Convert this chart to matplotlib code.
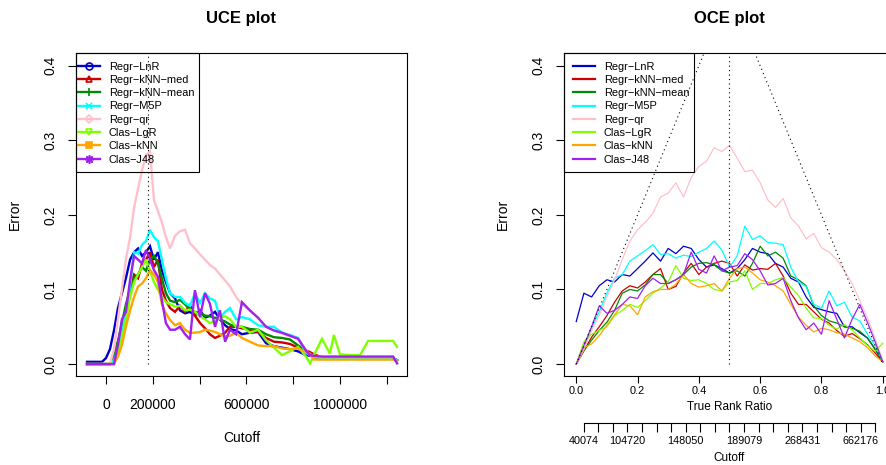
import numpy as np
import matplotlib.pyplot as plt
from matplotlib.lines import Line2D
from matplotlib.patches import Rectangle

plt.rcParams['font.family'] = ['Liberation Sans', 'DejaVu Sans']

# ---- data ----
names = ['Regr\u2212LnR', 'Regr\u2212kNN\u2212med', 'Regr\u2212kNN\u2212mean', 'Regr\u2212M5P',
         'Regr\u2212qr', 'Clas\u2212LgR', 'Clas\u2212kNN', 'Clas\u2212J48']
colors = ['#0000CD', '#CD0000', '#008B00', '#00FFFF', '#FFC0CB', '#7FFF00', '#FFA500', '#A020F0']

# UCE: error vs cutoff
uce_cutoff = [-81000, -17000, 0, 17000, 34000, 51000, 68000, 85000, 103000, 120000,
              137000, 154000, 171000, 188000, 205000, 222000, 239000, 256000, 274000, 295000,
              316000, 338000, 359000, 380000, 402000, 423000, 444000, 466000, 487000, 509000,
              530000, 556000, 581000, 615000, 650000, 684000, 718000, 752000, 786000, 821000,
              855000, 872000, 889000, 923000, 957000, 974000, 1000000, 1043000, 1086000, 1120000,
              1171000, 1227000, 1244000]
uce_lnr = [0.003, 0.003, 0.008, 0.02, 0.045, 0.075, 0.095, 0.115, 0.14, 0.15, 0.155, 0.145, 0.15,
           0.158, 0.14, 0.15, 0.125, 0.11, 0.095, 0.088, 0.072, 0.068, 0.07, 0.065, 0.072, 0.062,
           0.065, 0.07, 0.06, 0.052, 0.047, 0.045, 0.04, 0.042, 0.043, 0.028, 0.024, 0.022, 0.02,
           0.017, 0.012, 0.011, 0.01, 0.009, 0.009, 0.008, 0.008, 0.008, 0.008, 0.008, 0.008,
           0.008, 0.005]
uce_knn_med = [0, 0, 0, 0, 0.01, 0.03, 0.05, 0.075, 0.1, 0.12, 0.115, 0.135, 0.14, 0.15, 0.13,
               0.14, 0.1, 0.085, 0.075, 0.07, 0.078, 0.07, 0.079, 0.065, 0.055, 0.048, 0.04,
               0.035, 0.038, 0.042, 0.05, 0.05, 0.048, 0.046, 0.043, 0.035, 0.03, 0.029, 0.027,
               0.022, 0.018, 0.016, 0.013, 0.009, 0.008, 0.008, 0.008, 0.008, 0.008, 0.008,
               0.008, 0.008, 0.005]
uce_knn_mean = [0, 0, 0, 0, 0.01, 0.03, 0.055, 0.08, 0.1, 0.115, 0.12, 0.13, 0.125, 0.14, 0.145,
                0.135, 0.115, 0.095, 0.085, 0.083, 0.086, 0.08, 0.073, 0.07, 0.068, 0.065, 0.064,
                0.062, 0.06, 0.057, 0.053, 0.05, 0.05, 0.047, 0.046, 0.04, 0.036, 0.035, 0.033,
                0.025, 0.018, 0.013, 0.009, 0.008, 0.008, 0.008, 0.008, 0.008, 0.008, 0.008,
                0.008, 0.008, 0.005]
uce_m5p = [0, 0, 0, 0, 0.005, 0.02, 0.04, 0.07, 0.105, 0.15, 0.148, 0.16, 0.165, 0.18, 0.17,
           0.165, 0.14, 0.115, 0.095, 0.09, 0.09, 0.082, 0.078, 0.095, 0.082, 0.095, 0.088,
           0.085, 0.062, 0.07, 0.075, 0.06, 0.063, 0.06, 0.052, 0.05, 0.05, 0.042, 0.039, 0.035,
           0.015, 0.012, 0.01, 0.008, 0.008, 0.008, 0.008, 0.008, 0.008, 0.008, 0.008, 0.008,
           0.005]
uce_qr = [0, 0, 0, 0, 0.02, 0.06, 0.1, 0.14, 0.17, 0.21, 0.235, 0.26, 0.28, 0.285, 0.22, 0.205,
          0.19, 0.17, 0.155, 0.172, 0.178, 0.18, 0.162, 0.155, 0.147, 0.14, 0.133, 0.128, 0.12,
          0.112, 0.104, 0.09, 0.08, 0.072, 0.062, 0.05, 0.045, 0.041, 0.037, 0.034, 0.018, 0.012,
          0.011, 0.01, 0.01, 0.01, 0.01, 0.01, 0.01, 0.01, 0.01, 0.01, 0.001]
uce_lgr = [0, 0, 0, 0, 0, 0.015, 0.035, 0.06, 0.09, 0.11, 0.12, 0.13, 0.14, 0.125, 0.11, 0.1,
           0.09, 0.083, 0.08, 0.077, 0.078, 0.072, 0.073, 0.07, 0.064, 0.06, 0.055, 0.058, 0.062,
           0.064, 0.06, 0.05, 0.05, 0.042, 0.046, 0.032, 0.022, 0.012, 0.017, 0.023, 0.01, 0.001,
           0.012, 0.034, 0.014, 0.039, 0.013, 0.012, 0.012, 0.031, 0.031, 0.031, 0.023]
uce_knn = [0, 0, 0, 0, 0, 0.01, 0.025, 0.05, 0.072, 0.09, 0.104, 0.108, 0.115, 0.126, 0.12,
           0.11, 0.08, 0.068, 0.059, 0.052, 0.055, 0.046, 0.042, 0.042, 0.043, 0.046, 0.045,
           0.043, 0.04, 0.037, 0.038, 0.042, 0.035, 0.03, 0.025, 0.024, 0.024, 0.021, 0.02,
           0.021, 0.016, 0.014, 0.006, 0.006, 0.006, 0.006, 0.006, 0.006, 0.006, 0.006, 0.006,
           0.006, 0.004]
uce_j48 = [0, 0, 0, 0, 0, 0.025, 0.06, 0.07, 0.113, 0.145, 0.14, 0.135, 0.153, 0.14, 0.126,
           0.117, 0.085, 0.055, 0.046, 0.046, 0.05, 0.04, 0.033, 0.099, 0.063, 0.095, 0.081,
           0.05, 0.072, 0.03, 0.046, 0.04, 0.083, 0.072, 0.062, 0.05, 0.045, 0.042, 0.038, 0.034,
           0.018, 0.012, 0.011, 0.01, 0.01, 0.01, 0.01, 0.01, 0.01, 0.01, 0.01, 0.01, 0.001]
uce_median_cutoff = 181000

# OCE: error vs true rank ratio
oce_ratio = [0.0, 0.025, 0.05, 0.075, 0.1, 0.125, 0.15, 0.175, 0.2, 0.225, 0.25, 0.275, 0.3,
             0.325, 0.35, 0.375, 0.4, 0.425, 0.45, 0.475, 0.5, 0.525, 0.55, 0.575, 0.6, 0.625,
             0.65, 0.675, 0.7, 0.725, 0.75, 0.775, 0.8, 0.825, 0.85, 0.875, 0.9, 0.925, 0.95,
             0.975, 1.0]
oce_lnr = [0.057, 0.095, 0.09, 0.105, 0.113, 0.11, 0.12, 0.118, 0.128, 0.138, 0.149, 0.138, 0.155,
           0.148, 0.158, 0.155, 0.14, 0.13, 0.133, 0.128, 0.122, 0.128, 0.14, 0.155, 0.15, 0.148,
           0.135, 0.13, 0.115, 0.11, 0.09, 0.076, 0.073, 0.07, 0.068, 0.05, 0.05, 0.042, 0.035,
           0.02, 0.003]
oce_knn_med = [0.0, 0.018, 0.036, 0.05, 0.065, 0.083, 0.098, 0.105, 0.102, 0.11, 0.12, 0.128, 0.1,
               0.104, 0.122, 0.135, 0.12, 0.13, 0.135, 0.138, 0.135, 0.118, 0.133, 0.126, 0.128,
               0.127, 0.135, 0.118, 0.095, 0.08, 0.08, 0.07, 0.06, 0.055, 0.045, 0.037, 0.041,
               0.034, 0.026, 0.015, 0.003]
oce_knn_mean = [0.0, 0.018, 0.032, 0.045, 0.056, 0.072, 0.095, 0.1, 0.098, 0.106, 0.12, 0.12,
                0.108, 0.113, 0.12, 0.13, 0.135, 0.136, 0.133, 0.125, 0.122, 0.125, 0.118, 0.135,
                0.158, 0.145, 0.15, 0.142, 0.118, 0.113, 0.105, 0.078, 0.065, 0.058, 0.055, 0.05,
                0.048, 0.044, 0.035, 0.02, 0.003]
oce_m5p = [0.0, 0.02, 0.048, 0.07, 0.095, 0.115, 0.12, 0.138, 0.145, 0.152, 0.16, 0.147, 0.148,
           0.142, 0.146, 0.144, 0.15, 0.155, 0.165, 0.153, 0.13, 0.145, 0.185, 0.167, 0.172,
           0.163, 0.162, 0.16, 0.13, 0.11, 0.104, 0.08, 0.075, 0.098, 0.078, 0.083, 0.063, 0.058,
           0.04, 0.025, 0.003]
oce_qr = [0.0, 0.02, 0.045, 0.065, 0.09, 0.113, 0.14, 0.165, 0.18, 0.19, 0.202, 0.224, 0.229,
          0.243, 0.224, 0.25, 0.265, 0.272, 0.29, 0.285, 0.293, 0.276, 0.258, 0.26, 0.243, 0.22,
          0.21, 0.222, 0.196, 0.185, 0.168, 0.175, 0.156, 0.15, 0.14, 0.125, 0.108, 0.085, 0.062,
          0.035, 0.005]
oce_lgr = [0.0, 0.03, 0.04, 0.045, 0.05, 0.065, 0.072, 0.08, 0.076, 0.085, 0.095, 0.102, 0.11,
           0.132, 0.115, 0.112, 0.113, 0.108, 0.1, 0.098, 0.11, 0.112, 0.125, 0.1, 0.108, 0.108,
           0.113, 0.116, 0.103, 0.092, 0.075, 0.062, 0.061, 0.052, 0.047, 0.053, 0.046, 0.035,
           0.025, 0.017, 0.028]
oce_knn = [0.0, 0.022, 0.027, 0.038, 0.052, 0.066, 0.08, 0.078, 0.066, 0.09, 0.097, 0.1, 0.1,
           0.107, 0.12, 0.108, 0.103, 0.105, 0.108, 0.098, 0.115, 0.128, 0.13, 0.122, 0.113, 0.11,
           0.105, 0.098, 0.08, 0.063, 0.052, 0.043, 0.048, 0.046, 0.042, 0.04, 0.035, 0.03,
           0.022, 0.011, 0.003]
oce_j48 = [0.0, 0.025, 0.05, 0.078, 0.068, 0.072, 0.08, 0.09, 0.088, 0.105, 0.115, 0.108, 0.108,
           0.113, 0.12, 0.15, 0.127, 0.122, 0.145, 0.125, 0.13, 0.132, 0.148, 0.14, 0.125, 0.106,
           0.108, 0.115, 0.085, 0.062, 0.046, 0.055, 0.04, 0.085, 0.06, 0.035, 0.06, 0.08, 0.056,
           0.03, 0.003]

# cutoff quantile labels on the second axis of the OCE plot (21 ticks, overlapping ones hidden)
cutoff_tick_labels = ['40074', '', '', '104720', '', '', '', '148050', '', '', '', '189079',
                      '', '', '', '268431', '', '', '', '662176', '']

uce_series = [uce_lnr, uce_knn_med, uce_knn_mean, uce_m5p, uce_qr, uce_lgr, uce_knn, uce_j48]
oce_series = [oce_lnr, oce_knn_med, oce_knn_mean, oce_m5p, oce_qr, oce_lgr, oce_knn, oce_j48]

# R-like point symbols: pch 1, 2, 3, 4, 5, 6, 15, 8
markers = ['o', '^', '+', 'x', 'D', 'v', 's', (8, 2, 0)]
filled = [False, False, True, True, False, False, True, True]
msizes = [5, 5, 6, 5, 4, 5, 5, 6]

fig = plt.figure(figsize=(8.87, 4.65), dpi=100)
W, H = 887.0, 465.0
axL = fig.add_axes([76 / W, 89 / H, 331 / W, 322.7 / H])
axR = fig.add_axes([564 / W, 89 / H, 331 / W, 322.7 / H])

for ax in (axL, axR):
    for s in ax.spines.values():
        s.set_linewidth(0.8)
        s.set_color('black')
    ax.set_ylim(-0.016, 0.4166)
    ax.set_yticks([0.0, 0.1, 0.2, 0.3, 0.4])
    ax.set_yticklabels(['0.0', '0.1', '0.2', '0.3', '0.4'], va='center')
    ax.tick_params(axis='y', direction='out', length=6, width=0.8, pad=7.5,
                   labelsize=10, labelrotation=90)
    ax.text(-0.184, 0.5, 'Error', transform=ax.transAxes, rotation=90,
            ha='center', va='center', fontsize=10)

# ---- UCE plot ----
for vals, c in zip(uce_series, colors):
    axL.plot(uce_cutoff, vals, color=c, lw=1.7, solid_joinstyle='miter')
axL.plot([uce_median_cutoff, uce_median_cutoff], [0, 0.5], color='black', lw=0.8,
         linestyle=(0, (1, 3)), zorder=5)
axL.set_xlim(-128200, 1286500)
axL.set_xticks([0, 200000, 400000, 600000, 800000, 1000000, 1200000])
axL.set_xticklabels(['0', '200000', '', '600000', '', '1000000', ''])
axL.tick_params(axis='x', direction='out', length=6, width=0.8, pad=10, labelsize=10)
axL.text(0.5, -0.192, 'Cutoff', transform=axL.transAxes, ha='center', va='center', fontsize=10)
axL.text(0.5, 1.109, 'UCE plot', transform=axL.transAxes, ha='center', va='center',
         fontsize=12, fontweight='bold')

# legend: transparent background, box drawn separately like R's legend()
leg_bottom = (376 - 172) / 322.7
leg_top_row = (376 - 61.5) / 322.7

handles = []
for c, m, f, ms in zip(colors, markers, filled, msizes):
    handles.append(Line2D([], [], color=c, lw=1.7, marker=m, markersize=ms,
                          markerfacecolor=c if f else 'none', markeredgecolor=c,
                          markeredgewidth=1.2))
legL = axL.legend(handles, names, loc='upper left', bbox_to_anchor=(2 / 331, leg_top_row),
                  borderaxespad=0, borderpad=0, frameon=False, fontsize=7.9,
                  handlelength=2.0, handletextpad=0.82, labelspacing=0.3)
axL.add_patch(Rectangle((0, leg_bottom), 123 / 331, 1 - leg_bottom, transform=axL.transAxes,
                        fill=False, edgecolor='black', lw=0.8, clip_on=False, zorder=6))

# ---- OCE plot ----
for vals, c in zip(oce_series, colors):
    axR.plot(oce_ratio, vals, color=c, lw=0.9)
axR.plot([0.5, 0.5], [0, 0.5], color='black', lw=0.8, linestyle=(0, (1, 3)), zorder=5)
axR.plot([0, 0.5, 1], [0, 0.5, 0], color='black', lw=0.8, linestyle=(0, (1, 3)), zorder=5)
axR.set_xlim(-0.04, 1.04)
axR.set_xticks([0.0, 0.2, 0.4, 0.6, 0.8, 1.0])
axR.set_xticklabels(['0.0', '0.2', '0.4', '0.6', '0.8', '1.0'])
axR.tick_params(axis='x', direction='out', length=5, width=0.8, pad=2.5, labelsize=7.9)
axR.text(0.5, -0.096, 'True Rank Ratio', transform=axR.transAxes, ha='center', va='center',
         fontsize=8.5)
axR.text(0.5, -0.254, 'Cutoff', transform=axR.transAxes, ha='center', va='center', fontsize=8.5)
axR.text(0.5, 1.109, 'OCE plot', transform=axR.transAxes, ha='center', va='center',
         fontsize=12, fontweight='bold')

handlesR = [Line2D([], [], color=c, lw=1.6) for c in colors]
legR = axR.legend(handlesR, names, loc='upper left', bbox_to_anchor=(9 / 331, leg_top_row),
                  borderaxespad=0, borderpad=0, frameon=False, fontsize=7.9,
                  handlelength=2.0, handletextpad=0.82, labelspacing=0.3)
axR.add_patch(Rectangle((0, leg_bottom), 130 / 331, 1 - leg_bottom, transform=axR.transAxes,
                        fill=False, edgecolor='black', lw=0.8, clip_on=False, zorder=6))

# second axis with cutoff quantiles
n_q = len(cutoff_tick_labels)
q_pos = [(i + 0.5) / n_q for i in range(n_q)]
ax2 = axR.twiny()
ax2.set_xlim(axR.get_xlim())
for side in ('top', 'left', 'right'):
    ax2.spines[side].set_visible(False)
ax2.xaxis.set_ticks_position('bottom')
ax2.xaxis.set_label_position('bottom')
ax2.spines['bottom'].set_position(('axes', -0.1457))
ax2.spines['bottom'].set_bounds(q_pos[0], q_pos[-1])
ax2.spines['bottom'].set_linewidth(0.8)
ax2.set_xticks(q_pos)
ax2.set_xticklabels(cutoff_tick_labels)
ax2.tick_params(axis='x', direction='out', length=6.5, width=0.8, pad=2.5, labelsize=7.8)
ax2.patch.set_visible(False)

fig.savefig('out.png', dpi=100)
